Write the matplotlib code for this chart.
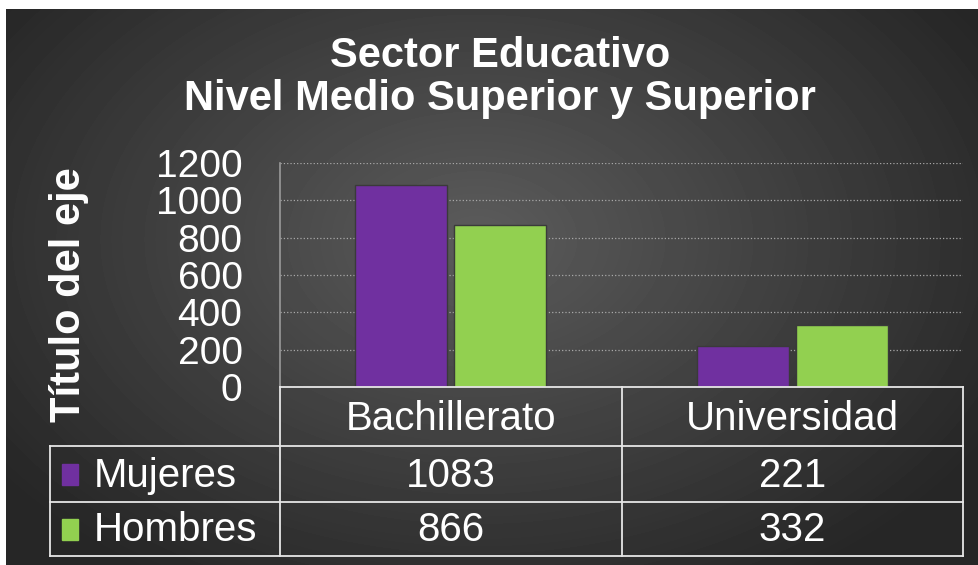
import numpy as np
import matplotlib
matplotlib.use('Agg')
import matplotlib.pyplot as plt

categories = ['Bachillerato', 'Universidad']
series_names = ['Mujeres', 'Hombres']
mujeres = [1083, 221]
hombres = [866, 332]
yticks = [0, 200, 400, 600, 800, 1000, 1200]
colors = ['#7030A0', '#92D050']

plt.rcParams['font.family'] = ['Liberation Sans', 'DejaVu Sans']

W, H = 979, 565
fig = plt.figure(figsize=(W / 100, H / 100), dpi=100, facecolor='white')

# dark radial background
bg = fig.add_axes([6 / W, 0, (W - 6) / W, (H - 9) / H])
yy, xx = np.mgrid[0:556, 0:973]
d = np.sqrt(((xx - 470) / 620.0) ** 2 + ((yy - 230) / 420.0) ** 2)
shade = np.clip(0.36 - 0.22 * d, 0.15, 0.36)
bg.imshow(shade, cmap='gray', vmin=0, vmax=1, aspect='auto', interpolation='bilinear')
bg.axis('off')

# chart area
L, R, T, B = 280, 963, 163, 387
ax = fig.add_axes([L / W, (H - B) / H, (R - L) / W, (B - T) / H])
ax.patch.set_alpha(0)
x = np.arange(len(categories))
bw = 0.27
ax.bar(x - 0.145, mujeres, bw, color=colors[0], edgecolor='#3a3a3a', linewidth=1, zorder=3)
ax.bar(x + 0.145, hombres, bw, color=colors[1], edgecolor='#3a3a3a', linewidth=1, zorder=3)
ax.set_xlim(-0.5, 1.5)
ax.set_ylim(0, 1200)
ax.set_yticks(yticks)
ax.set_yticklabels([str(v) for v in yticks], fontsize=28, color='white')
ax.tick_params(axis='y', length=0, pad=27)
ax.set_xticks([])
ax.grid(axis='y', color='#a8a8a8', linestyle=':', linewidth=0.9, zorder=0)
for s in ['top', 'right', 'bottom']:
    ax.spines[s].set_visible(False)
ax.spines['left'].set_color('#9a9a9a')
ax.spines['left'].set_linewidth(1.2)

fig.text(69 / W, 1 - 295 / H, 'Título del eje', rotation=90, ha='center', va='center',
         fontsize=30, fontweight='bold', color='white')

fig.text(500 / W, 1 - 67 / H, 'Sector Educativo', ha='center', va='baseline',
         fontsize=30, fontweight='bold', color='white')
fig.text(500 / W, 1 - 110 / H, 'Nivel Medio Superior y Superior', ha='center', va='baseline',
         fontsize=30, fontweight='bold', color='white')

# data table
tab = fig.add_axes([0, 0, 1, 1])
tab.set_xlim(0, W)
tab.set_ylim(H, 0)
tab.axis('off')
lc = dict(color='#e6e6e6', linewidth=1.3)
col_edges = [50, L, 622, R]
row_edges = [B, 446, 502, 556]
baselines = [430, 487, 541]
tab.plot([L, R], [B, B], **lc)
for yv in row_edges[1:]:
    tab.plot([col_edges[0], R], [yv, yv], **lc)
tab.plot([col_edges[0], col_edges[0]], [row_edges[1], row_edges[3]], **lc)
for xv in col_edges[1:]:
    tab.plot([xv, xv], [B, row_edges[3]], **lc)

for i, c in enumerate(categories):
    cx = (col_edges[i + 1] + col_edges[i + 2]) / 2
    tab.text(cx, baselines[0], c, ha='center', va='baseline', fontsize=29, color='white')
for r, (name, vals) in enumerate(zip(series_names, [mujeres, hombres])):
    cy = (row_edges[r + 1] + row_edges[r + 2]) / 2
    tab.add_patch(plt.Rectangle((62, cy - 10), 16, 21, color=colors[r]))
    tab.text(94, baselines[r + 1], name, ha='left', va='baseline', fontsize=29, color='white')
    for i, v in enumerate(vals):
        cx = (col_edges[i + 1] + col_edges[i + 2]) / 2
        tab.text(cx, baselines[r + 1], str(v), ha='center', va='baseline', fontsize=29, color='white')

fig.savefig('out.png', dpi=100, facecolor='white')
